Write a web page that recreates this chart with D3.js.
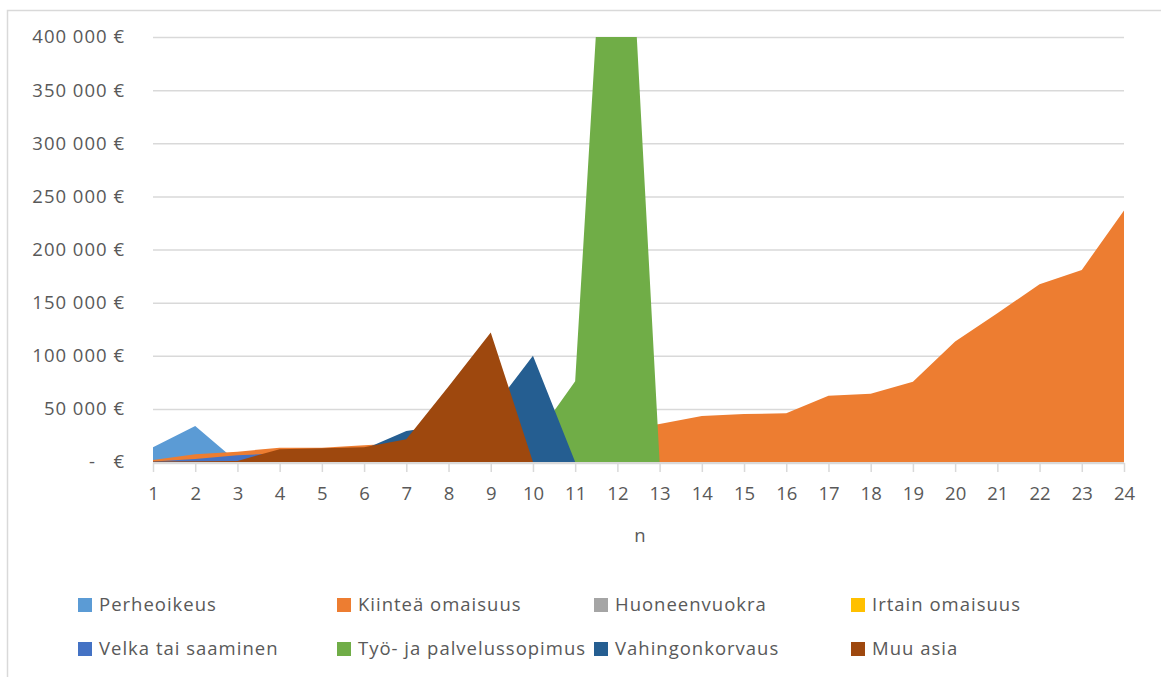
<!DOCTYPE html>
<html>
<head>
<meta charset="utf-8">
<script src="https://cdn.jsdelivr.net/npm/d3@7/dist/d3.min.js"></script>
<style>
  body { margin: 0; background: #fff; }
  text { font-family: "Open Sans", sans-serif; fill: #595959; }
</style>
</head>
<body>
<svg id="chart" width="1161" height="677"></svg>
<script>
// categories on the x axis
var categories = [1, 2, 3, 4, 5, 6, 7, 8, 9, 10, 11, 12, 13, 14, 15, 16, 17, 18, 19, 20, 21, 22, 23, 24];

// series values (euro); hidden parts are guesses kept under the covering areas
var perheoikeus     = [14000, 34000, 0, 0, 0, 0, 0, 0, 0, 0, 0, 0, 0, 0, 0, 0, 0, 0, 0, 0, 0, 0, 0, 0];
var kiinteaOmaisuus = [2000, 7300, 9700, 13500, 13500, 15700, 18000, 20000, 22000, 25000, 28000, 30000, 35800, 43300, 45200, 45800, 62400, 64300, 75600, 113300, 140000, 167300, 180800, 236600];
var huoneenvuokra   = [0, 0, 0, 0, 3000, 0, 0, 0, 0, 0, 0, 0, 0, 0, 0, 0, 0, 0, 0, 0, 0, 0, 0, 0];
var irtainOmaisuus  = [0, 0, 0, 0, 0, 2000, 0, 0, 0, 0, 0, 0, 0, 0, 0, 0, 0, 0, 0, 0, 0, 0, 0, 0];
var velka           = [500, 2800, 6300, 8000, 5000, 5000, 3000, 0, 0, 0, 0, 0, 0, 0, 0, 0, 0, 0, 0, 0, 0, 0, 0, 0];
var tyoJaPalvelus   = [0, 0, 0, 0, 0, 0, 0, 0, 0, 20000, 76000, 740000, 0, 0, 0, 0, 0, 0, 0, 0, 0, 0, 0, 0];
var vahingonkorvaus = [0, 0, 0, 5000, 8000, 12000, 29200, 35000, 48000, 100000, 0, 0, 0, 0, 0, 0, 0, 0, 0, 0, 0, 0, 0, 0];
var muuAsia         = [500, 800, 1000, 12000, 12900, 13800, 21400, 71000, 122000, 0, 0, 0, 0, 0, 0, 0, 0, 0, 0, 0, 0, 0, 0, 0];

var seriesNames  = ["Perheoikeus", "Kiinteä omaisuus", "Huoneenvuokra", "Irtain omaisuus",
                    "Velka tai saaminen", "Työ- ja palvelussopimus", "Vahingonkorvaus", "Muu asia"];
var seriesValues = [perheoikeus, kiinteaOmaisuus, huoneenvuokra, irtainOmaisuus,
                    velka, tyoJaPalvelus, vahingonkorvaus, muuAsia];
var seriesColors = ["#5B9BD5", "#ED7D31", "#A5A5A5", "#FFC000", "#4472C4", "#70AD47", "#255E91", "#9E480E"];

var yTicks = [0, 50000, 100000, 150000, 200000, 250000, 300000, 350000, 400000];
var xTitle = "n";

var svg = d3.select("#chart");

// outer chart border (only left and top edges fall inside the picture)
svg.append("rect")
    .attr("x", 7.5).attr("y", 10.5)
    .attr("width", 1200).attr("height", 700)
    .attr("fill", "none")
    .attr("stroke", "#D9D9D9")
    .attr("stroke-width", 1.5);

var margin = {top: 37, left: 153},
    width = 1124 - 153,
    height = 462 - 37;

var x = d3.scaleLinear().domain([1, 24]).range([0, width]);
var y = d3.scaleLinear().domain([0, 400000]).range([height, 0]);

var g = svg.append("g")
    .attr("transform", "translate(" + margin.left + "," + margin.top + ")");

// y axis with gridlines
var fmt = d3.format(",");
var yAxis = d3.axisLeft(y)
    .tickValues(yTicks)
    .tickSize(-width)
    .tickPadding(28)
    .tickFormat(v => v === 0 ? "-   €" : fmt(v).replace(/,/g, " ") + " €");

var ya = g.append("g").attr("class", "y axis").call(yAxis);
ya.select(".domain").remove();
ya.selectAll("line").attr("stroke", "#D9D9D9").attr("stroke-width", 1.5);
ya.selectAll("text")
    .style("font-size", "18.5px")
    .style("letter-spacing", "1px")
    .style("white-space", "pre")
    .attr("fill", "#595959");

// areas, drawn in series order so later ones sit on top
svg.append("clipPath")
    .attr("id", "plotClip")
    .append("rect")
    .attr("x", 0).attr("y", 0)
    .attr("width", width).attr("height", height);

var area = d3.area()
    .x((d, i) => x(categories[i]))
    .y0(y(0))
    .y1(d => y(d));

var areas = g.append("g").attr("clip-path", "url(#plotClip)");
for (var s = 0; s < seriesValues.length; s++) {
  areas.append("path")
      .datum(seriesValues[s])
      .attr("fill", seriesColors[s])
      .attr("d", area);
}

// x axis
var xAxis = d3.axisBottom(x)
    .tickValues(categories)
    .tickFormat(d3.format("d"))
    .tickSizeInner(9)
    .tickSizeOuter(0)
    .tickPadding(15);

var xa = g.append("g")
    .attr("class", "x axis")
    .attr("transform", "translate(0," + (height + 1) + ")")
    .call(xAxis);
xa.select(".domain").attr("stroke", "#D9D9D9").attr("stroke-width", 1.5);
xa.selectAll("line").attr("stroke", "#D9D9D9").attr("stroke-width", 1.5);
xa.selectAll("text")
    .style("font-size", "18.5px")
    .attr("fill", "#595959");

svg.append("text")
    .attr("x", 640).attr("y", 542)
    .attr("text-anchor", "middle")
    .style("font-size", "18.5px")
    .text(xTitle);

// legend, 4 columns x 2 rows
var legendX = [78, 337, 594, 851],
    legendY = [598, 642];
var legend = svg.append("g").attr("class", "legend");
seriesNames.forEach((name, i) => {
  var lx = legendX[i % 4], ly = legendY[Math.floor(i / 4)];
  legend.append("rect")
      .attr("x", lx).attr("y", ly)
      .attr("width", 14).attr("height", 14)
      .attr("fill", seriesColors[i]);
  legend.append("text")
      .attr("x", lx + 21).attr("y", ly + 13)
      .style("font-size", "18.5px")
      .style("letter-spacing", "1px")
      .text(name);
});
</script>
</body>
</html>
